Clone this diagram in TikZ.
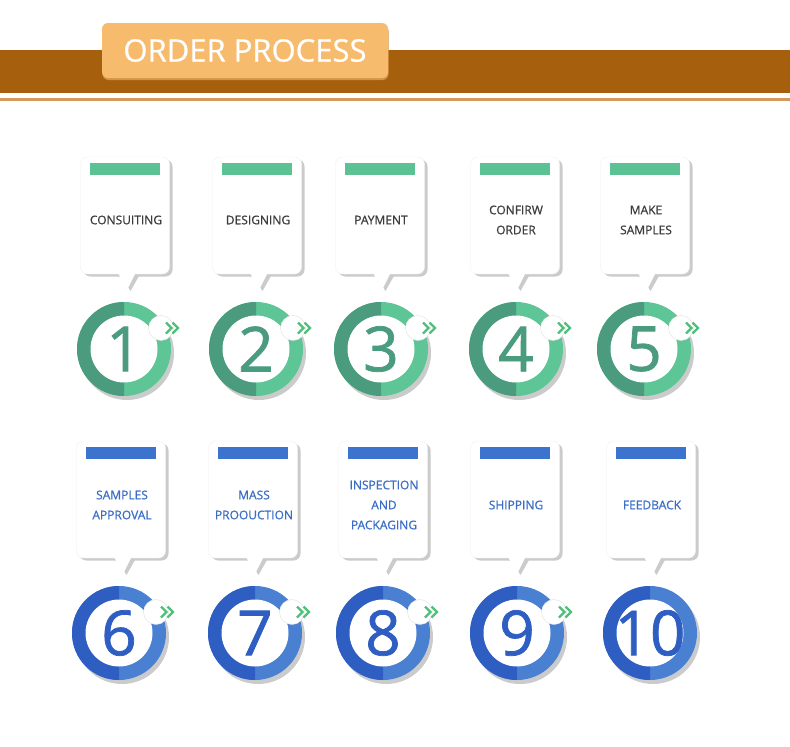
\documentclass[tikz,border=0pt]{standalone}
\usepackage{fontspec}
\setmainfont{Open Sans}
\newfontfamily\semibfont[FakeBold=0.7]{Open Sans}
\newfontfamily\digitfont[FakeBold=1.2]{Open Sans}
\definecolor{bandbrown}{HTML}{A6600D}
\definecolor{linebrown}{HTML}{D49A5C}
\definecolor{btnfill}{HTML}{F6BB6C}
\definecolor{btnshadow}{HTML}{D49548}
\definecolor{gdark}{HTML}{4B9B7F}
\definecolor{glight}{HTML}{5EC596}
\definecolor{gbar}{HTML}{5CC293}
\definecolor{bdark}{HTML}{2F5EC2}
\definecolor{blight}{HTML}{4A80D2}
\definecolor{bbar}{HTML}{3B73CE}
\definecolor{gtext}{HTML}{3C3C3C}
\definecolor{btext}{HTML}{3A6EC6}
\definecolor{chevgreen}{HTML}{4EC07C}
\definecolor{shadowgray}{HTML}{CBCBCB}
\tikzset{
  button/.style={fill=btnfill, rounded corners=6pt, minimum width=286pt, minimum height=55pt, text=white, font=\semibfont\fontsize{31}{31}\selectfont, inner sep=0pt},
  cardbox/.style={fill=white, draw=black!6, rounded corners=7pt, minimum width=89pt, minimum height=117pt, inner sep=0pt},
  cardshade/.style={fill=shadowgray, rounded corners=7pt, minimum width=89pt, minimum height=117pt, inner sep=0pt},
  cardtext/.style={align=center, font=\semibfont\fontsize{12}{20}\selectfont, inner sep=0pt},
  numtext/.style={font=\digitfont\fontsize{62}{62}\selectfont, inner sep=0pt},
  minicirc/.style={circle, fill=white, draw=black!12, minimum size=25pt, inner sep=0pt},
  chev/.style={draw=chevgreen, line width=2.4pt}
}
\begin{document}
\begin{tikzpicture}[x=1pt,y=-1pt]
\useasboundingbox (0,0) rectangle (790,747);
\fill[white] (0,0) rectangle (790,747);
% header
\fill[bandbrown] (0,50) rectangle (790,93);
\fill[linebrown] (0,98) rectangle (790,101);
\node[fill=btnshadow, rounded corners=6pt, minimum width=286pt, minimum height=55pt, inner sep=0pt] (titleshade) at (245.5,52.5) {};
\node[button] (title) at (245,50.5) {ORDER PROCESS};
% steps
\foreach \n/\kx/\cx/\r/\t in {
  1/125/124/1/{CONSUITING},
  2/257/256/1/{DESIGNING},
  3/380/381/1/{PAYMENT},
  4/515/516/1/{CONFIRW\\ORDER},
  5/645/644/1/{MAKE\\SAMPLES},
  6/121/119/2/{SAMPLES\\APPROVAL},
  7/253/255/2/{MASS\\PROOUCTION},
  8/383/383/2/{INSPECTION\\AND\\PACKAGING},
  9/515/517/2/{SHIPPING},
  10/651/650/2/{FEEDBACK}}{
  \ifnum\r=1
    \def\ct{157}\def\cb{274}\def\ty{220}\def\cy{349}
    \colorlet{dk}{gdark}\colorlet{lt}{glight}\colorlet{br}{gbar}\colorlet{tc}{gtext}
  \else
    \def\ct{441}\def\cb{558}\def\ty{505}\def\cy{633}
    \colorlet{dk}{bdark}\colorlet{lt}{blight}\colorlet{br}{bbar}\colorlet{tc}{btext}
  \fi
  % card shadow
  \node[cardshade] (cardshade\n) at ({\kx+3},{(\ct+\cb)/2+2.5}) {};
  \fill[shadowgray] ({\kx-4},{\cb+2}) -- ({\kx+5.5},{\cb+17}) -- ({\kx+14},{\cb+2}) -- cycle;
  % card
  \node[cardbox] (card\n) at (\kx,{(\ct+\cb)/2}) {};
  \fill[white] ({\kx-7},{\cb-1}) -- ({\kx+2.5},{\cb+15}) -- ({\kx+10.5},{\cb-1}) -- cycle;
  \fill[br] ({\kx-35},{\ct+5.5}) rectangle ({\kx+35},{\ct+17.5});
  \node[cardtext, text=tc] (txt\n) at ({\kx+1},\ty) {\t};
  % ring
  \fill[shadowgray] ({\cx+3},{\cy+4}) circle (47);
  \fill[lt] (\cx,\cy) circle (47);
  \begin{scope}
    \clip ({\cx-50},{\cy-50}) rectangle (\cx,{\cy+50});
    \fill[dk] (\cx,\cy) circle (47);
  \end{scope}
  \fill[white] (\cx,\cy) circle (33.5);
  \node[numtext, text=dk] (num\n) at (\cx,\cy) {\n};
  \ifnum\n<10
    \node[minicirc] (mini\n) at ({\cx+37},{\cy-21}) {};
    \draw[chev] ({\cx+42},{\cy-26.5}) -- ({\cx+47.5},{\cy-21}) -- ({\cx+42},{\cy-15.5});
    \draw[chev] ({\cx+48.5},{\cy-26.5}) -- ({\cx+54},{\cy-21}) -- ({\cx+48.5},{\cy-15.5});
  \fi
}
\end{tikzpicture}
\end{document}
